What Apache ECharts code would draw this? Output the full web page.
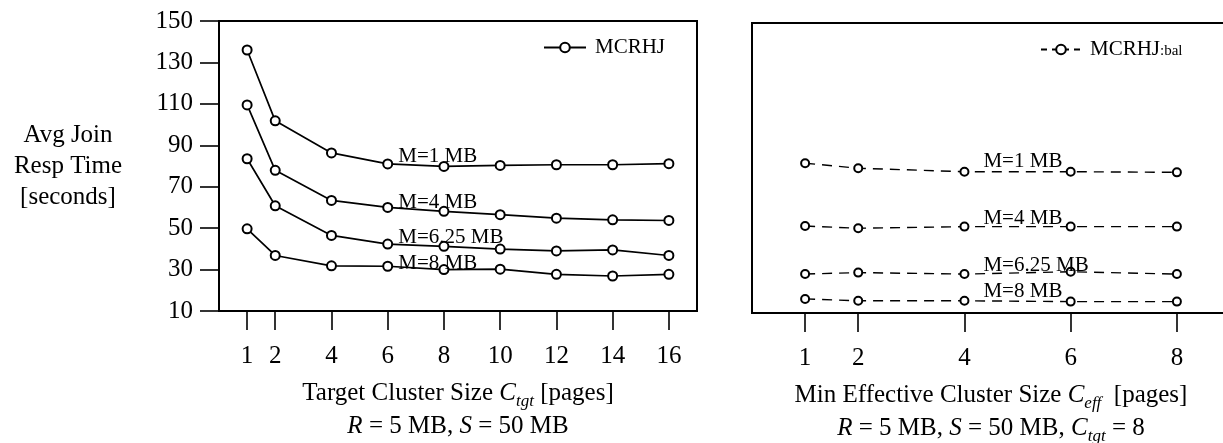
<!DOCTYPE html>
<html>
<head>
<meta charset="utf-8">
<script src="https://cdn.jsdelivr.net/npm/echarts@6/dist/echarts.min.js"></script>
<style>
html,body{margin:0;padding:0;background:#fff;}
#chart{width:1223px;height:443px;}
</style>
</head>
<body>
<div id="chart"></div>
<script>
// ---- data ----
const leftX = [1, 2, 4, 6, 8, 10, 12, 14, 16];
const leftM1 = [136, 101.8, 86.3, 81, 79.8, 80.3, 80.6, 80.6, 81.1];
const leftM4 = [109.5, 77.9, 63.4, 60, 58.1, 56.5, 54.8, 54, 53.7];
const leftM625 = [83.5, 60.8, 46.5, 42.3, 41.2, 39.9, 39, 39.5, 36.8];
const leftM8 = [49.7, 36.8, 31.8, 31.6, 30, 30.2, 27.7, 26.9, 27.7];

const rightX = [1, 2, 4, 6, 8];
const rightM1 = [82.3, 79.9, 78.2, 78.2, 77.9];
const rightM4 = [52, 50.9, 51.7, 51.7, 51.7];
const rightM625 = [28.8, 29.5, 28.8, 29.9, 28.8];
const rightM8 = [16.8, 15.9, 15.9, 15.5, 15.5];

const memLabels = ['M=1 MB', 'M=4 MB', 'M=6.25 MB', 'M=8 MB'];
const yTicks = [10, 30, 50, 70, 90, 110, 130, 150];
const leftXTicks = [1, 2, 4, 6, 8, 10, 12, 14, 16];
const rightXTicks = [1, 2, 4, 6, 8];
const legendNames = ['MCRHJ', 'MCRHJ:bal'];

// ---- styles ----
const FONT = '"Liberation Serif", "DejaVu Serif", serif';
const BLACK = '#000';

function mkData(xs, ys, labelIdx, text) {
  return xs.map((x, i) => i === labelIdx
    ? { value: [x, ys[i]], label: { show: true, formatter: text } }
    : [x, ys[i]]);
}

const leftOffsets = [[0, -7], [0, -5], [0, -7], [0, -3]];
const rightOffsets = [[0, -10], [0, -8], [0, -9], [0, -9]];

function leftSeries(name, ys, k) {
  return {
    type: 'line', name: name, xAxisIndex: 0, yAxisIndex: 0,
    data: mkData(leftX, ys, 3, memLabels[k]),
    symbol: 'emptyCircle', symbolSize: 9,
    lineStyle: { color: BLACK, width: 1.7 },
    itemStyle: { color: BLACK, borderColor: BLACK, borderWidth: 1.7 },
    label: { show: false, position: 'right', distance: 5, offset: leftOffsets[k],
             fontFamily: FONT, fontSize: 21, color: BLACK },
    emphasis: { disabled: true }, animation: false, z: 3
  };
}
function rightSeries(name, ys, k) {
  return {
    type: 'line', name: name, xAxisIndex: 1, yAxisIndex: 1,
    data: mkData(rightX, ys, 2, memLabels[k]),
    symbol: 'emptyCircle', symbolSize: 8,
    lineStyle: { color: BLACK, width: 1.4, type: [10, 7] },
    itemStyle: { color: BLACK, borderColor: BLACK, borderWidth: 1.4 },
    label: { show: false, position: 'right', distance: 14, offset: rightOffsets[k],
             fontFamily: FONT, fontSize: 21, color: BLACK },
    emphasis: { disabled: true }, animation: false, z: 3
  };
}

const richName = {
  n: { fontFamily: FONT, fontSize: 25, color: BLACK, lineHeight: 33 },
  i: { fontFamily: FONT, fontSize: 25, color: BLACK, lineHeight: 33, fontStyle: 'italic' },
  s: { fontFamily: FONT, fontSize: 17, color: BLACK, lineHeight: 17, fontStyle: 'italic', verticalAlign: 'bottom' }
};

function xAxisCfg(gridIndex, min, max, ticks, name) {
  return {
    type: 'value', gridIndex: gridIndex, min: min, max: max,
    axisLine: { show: true, lineStyle: { color: BLACK, width: 2 } },
    axisTick: { show: true, customValues: ticks, length: 19, inside: false,
                lineStyle: { color: BLACK, width: 1.6 } },
    axisLabel: { show: true, customValues: ticks, margin: 33,
                 fontFamily: FONT, fontSize: 25, color: BLACK },
    splitLine: { show: false },
    name: name, nameLocation: 'middle', nameGap: 66,
    nameTextStyle: { fontFamily: FONT, fontSize: 25, color: BLACK, lineHeight: 33,
                     align: 'center', rich: richName }
  };
}

const option = {
  backgroundColor: '#fff',
  animation: false,
  grid: [
    { left: 219, top: 21, width: 478, height: 290, show: true, containLabel: false,
      outerBoundsMode: 'none',
      borderColor: BLACK, borderWidth: 2, backgroundColor: 'transparent' },
    { left: 752, top: 23, width: 478, height: 290, show: true, containLabel: false,
      outerBoundsMode: 'none',
      borderColor: BLACK, borderWidth: 2, backgroundColor: 'transparent' }
  ],
  legend: [
    { data: [legendNames[0]], left: 543, top: 37, padding: 0, itemWidth: 42, itemHeight: 12,
      itemGap: 0, selectedMode: false,
      textStyle: { fontFamily: FONT, fontSize: 21, color: BLACK, padding: [0, 0, 0, 4] } },
    { data: [legendNames[1]], left: 1040, top: 39, padding: 0, itemWidth: 40, itemHeight: 12,
      itemGap: 0, selectedMode: false,
      formatter: function () { return '{a|MCRHJ}{b|:bal}'; },
      textStyle: { fontFamily: FONT, fontSize: 21, color: BLACK, padding: [0, 0, 0, 4],
        rich: { a: { fontFamily: FONT, fontSize: 21, color: BLACK },
                b: { fontFamily: FONT, fontSize: 15, color: BLACK, verticalAlign: 'bottom', padding: [0, 0, 1, 0] } } } }
  ],
  xAxis: [
    xAxisCfg(0, 0, 17, leftXTicks,
      '{n|Target Cluster Size }{i|C}{s|tgt}{n| [pages]}\n{i|R}{n| = 5 MB, }{i|S}{n| = 50 MB}'),
    xAxisCfg(1, 0, 9, rightXTicks,
      '{n|Min Effective Cluster Size }{i|C}{s|eff}{n|  [pages]}\n{i|R}{n| = 5 MB, }{i|S}{n| = 50 MB, }{i|C}{s|tgt}{n| = 8}')
  ],
  yAxis: [
    { type: 'value', gridIndex: 0, min: 10, max: 150,
      axisLine: { show: true, lineStyle: { color: BLACK, width: 2 } },
      axisTick: { show: true, customValues: yTicks, length: 19, inside: false,
                  lineStyle: { color: BLACK, width: 1.6 } },
      axisLabel: { show: true, customValues: yTicks, margin: 26,
                   fontFamily: FONT, fontSize: 25, color: BLACK },
      splitLine: { show: false },
      name: 'Avg Join\nResp Time\n[seconds]', nameLocation: 'middle', nameRotate: 0, nameGap: 151,
      nameTextStyle: { fontFamily: FONT, fontSize: 25, color: BLACK, lineHeight: 31,
                       align: 'center', verticalAlign: 'middle', padding: [10, 0, 0, 0] } },
    { type: 'value', gridIndex: 1, min: 10, max: 150,
      axisLine: { show: true, lineStyle: { color: BLACK, width: 2 } },
      axisTick: { show: false }, axisLabel: { show: false }, splitLine: { show: false } }
  ],
  series: [
    { type: 'line', name: legendNames[0], xAxisIndex: 0, yAxisIndex: 0, data: [],
      symbol: 'emptyCircle', symbolSize: 9,
      lineStyle: { color: BLACK, width: 1.7 },
      itemStyle: { color: BLACK, borderColor: BLACK, borderWidth: 1.7 } },
    { type: 'line', name: legendNames[1], xAxisIndex: 1, yAxisIndex: 1, data: [],
      symbol: 'emptyCircle', symbolSize: 8,
      lineStyle: { color: BLACK, width: 1.4, type: [6, 5] },
      itemStyle: { color: BLACK, borderColor: BLACK, borderWidth: 1.4 } },
    leftSeries('L1', leftM1, 0),
    leftSeries('L4', leftM4, 1),
    leftSeries('L625', leftM625, 2),
    leftSeries('L8', leftM8, 3),
    rightSeries('R1', rightM1, 0),
    rightSeries('R4', rightM4, 1),
    rightSeries('R625', rightM625, 2),
    rightSeries('R8', rightM8, 3)
  ]
};

const chart = echarts.init(document.getElementById('chart'), null, { renderer: 'canvas' });
chart.setOption(option);
</script>
</body>
</html>
